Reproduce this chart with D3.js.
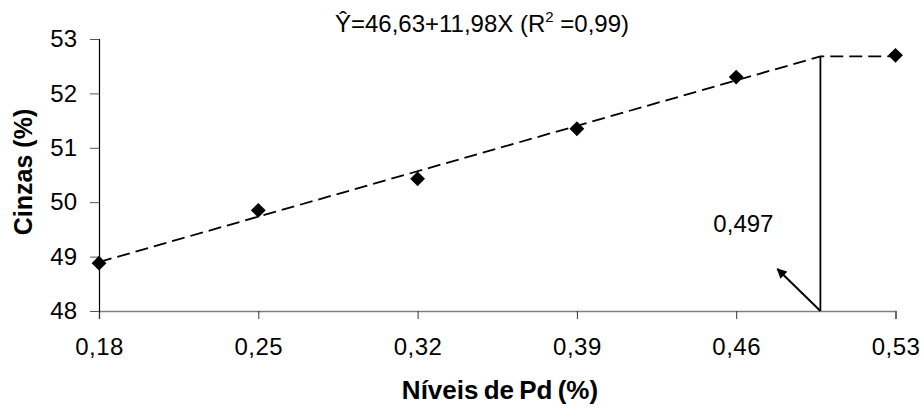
<!DOCTYPE html>
<html><head><meta charset="utf-8">
<script src="https://cdn.jsdelivr.net/npm/d3@7"></script>
<style>body{margin:0;background:#fff}svg{display:block}text{font-family:"Liberation Sans",Arial,sans-serif}</style>
</head><body>
<svg id="c" width="924" height="408"></svg>
<script>
const niveis = [0.18, 0.25, 0.32, 0.39, 0.46, 0.53];
const cinzas = [48.88, 49.85, 50.43, 51.35, 52.3, 52.7];
const fitX = [0.18, 0.497, 0.53];
const fitY = [48.9, 52.68, 52.68];
const xTicks = [0.18, 0.25, 0.32, 0.39, 0.46, 0.53];
const yTicks = [48, 49, 50, 51, 52, 53];
const breakX = 0.497;

const svg = d3.select("#c");
const x = d3.scaleLinear().domain([0.18, 0.53]).range([99, 895.5]);
const y = d3.scaleLinear().domain([48, 53]).range([311, 39]);
const fmt = d => d3.format(".2f")(d).replace(".", ",");
const FF = "Liberation Sans, Arial, sans-serif";

const defs = svg.append("defs");
defs.append("marker").attr("id","ah").attr("viewBox","0 0 10 10").attr("refX",9).attr("refY",5)
  .attr("markerWidth",5).attr("markerHeight",5).attr("orient","auto")
  .append("path").attr("d","M0,0L10,5L0,10z").attr("fill","#000");

// x axis
const xa = svg.append("g").attr("transform","translate(0,311)")
  .call(d3.axisBottom(x).tickValues(xTicks).tickFormat(fmt).tickSize(8).tickPadding(19));
xa.select(".domain").attr("stroke","#808080").attr("stroke-width",1.5);
xa.selectAll(".tick line").attr("stroke","#333");
xa.selectAll("text").attr("font-size",24).attr("fill","#000").attr("font-family",FF).attr("letter-spacing",0.5);

// y axis
const ya = svg.append("g").attr("transform","translate(99,0)")
  .call(d3.axisLeft(y).tickValues(yTicks).tickFormat(d3.format("d")).tickSize(9).tickPadding(13));
ya.select(".domain").attr("stroke","#000").attr("stroke-width",1.2);
ya.selectAll(".tick line").attr("stroke","#555");
ya.selectAll("text").attr("font-size",24).attr("fill","#000").attr("font-family",FF);

// fit line
const fitData = fitX.map((v,i)=>[v,fitY[i]]);
svg.append("path").datum(fitData)
  .attr("d", d3.line().x(d=>x(d[0])).y(d=>y(d[1])))
  .attr("fill","none").attr("stroke","#000").attr("stroke-width",1.8).attr("stroke-dasharray","13,6");

// vertical line
svg.append("line").attr("x1",x(breakX)).attr("x2",x(breakX)).attr("y1",y(fitY[1])).attr("y2",y(48))
  .attr("stroke","#000").attr("stroke-width",1.8);

// arrow
svg.append("line").attr("x1",x(breakX)).attr("y1",y(48)).attr("x2",x(breakX)-43).attr("y2",y(48)-42)
  .attr("stroke","#000").attr("stroke-width",2).attr("marker-end","url(#ah)");

svg.append("text").attr("x",x(breakX)-77).attr("y",232).attr("text-anchor","middle")
  .attr("font-size",24).text("0,497");

// points
svg.selectAll(".pt").data(niveis.map((v,i)=>[v,cinzas[i]])).enter().append("path")
  .attr("transform",d=>`translate(${x(d[0])},${y(d[1])})`)
  .attr("d", d3.symbol(d3.symbolDiamond2, 140)()).attr("fill","#000");

// equation
const t = svg.append("text").attr("x",482).attr("y",32).attr("text-anchor","middle").attr("font-size",24);
t.append("tspan").text("Ŷ=46,63+11,98X (R");
t.append("tspan").attr("font-size",15).attr("dy",-10).text("2");
t.append("tspan").attr("dy",10).text(" =0,99)");

// axis titles
svg.append("text").attr("x",500).attr("y",399).attr("text-anchor","middle").attr("word-spacing",-2)
  .attr("font-size",26).attr("font-weight","bold").text("Níveis de Pd (%)");
svg.append("text").attr("transform","translate(32,172) rotate(-90)").attr("text-anchor","middle")
  .attr("font-size",25).attr("font-weight","bold").text("Cinzas (%)");
</script>
</body></html>
